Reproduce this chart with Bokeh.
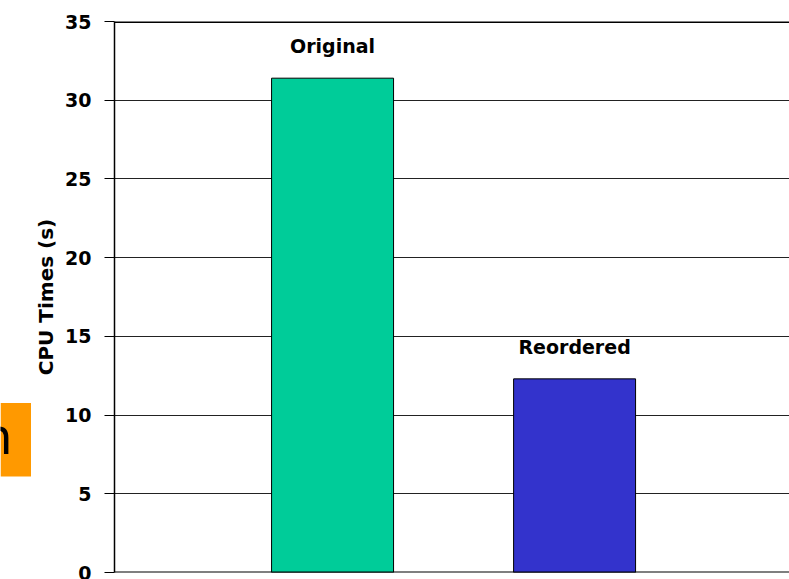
from bokeh.plotting import figure
from bokeh.layouts import row
from bokeh.models import ColumnDataSource, Range1d, FixedTicker, Span
from bokeh.core.properties import value
from bokeh.embed import file_html
from bokeh.resources import INLINE

# CPU times for the two orderings
categories = ["Original", "Reordered"]
cpu_times = [31.4, 12.3]
bar_colors = ["#00CC99", "#3333CC"]
y_ticks = [0, 5, 10, 15, 20, 25, 30, 35]

FONT = "DejaVu Sans"
TAB_W = 31
HEIGHT = 579

source = ColumnDataSource(data=dict(
    x=[1, 2],
    top=cpu_times,
    label=categories,
    color=bar_colors,
))

# narrow strip on the left holding the orange side tab (pixel-scaled ranges)
tab = figure(
    width=TAB_W, height=HEIGHT,
    output_backend="svg", toolbar_location=None,
    x_range=Range1d(0, TAB_W), y_range=Range1d(HEIGHT, 0),
    x_axis_location=None, y_axis_location=None,
    min_border=0,
)
tab.outline_line_color = None
tab.grid.visible = False
tab.border_fill_color = "white"
tab.background_fill_color = "white"
tab.quad(left=0, right=TAB_W, top=401, bottom=478, fill_color="#FF9900", line_color=None)
tab.text(x=[12], y=[437], text=["n"], text_align="right", text_baseline="alphabetic",
         text_font=value(FONT), text_font_size="49px", text_color="black")

# main bar chart
p = figure(
    width=789 - TAB_W, height=HEIGHT,
    output_backend="svg", toolbar_location=None,
    x_range=Range1d(0.099, 2.888), y_range=Range1d(0, 35),
    x_axis_location=None,
    min_border_left=114 - TAB_W, min_border_right=0,
    min_border_top=21, min_border_bottom=7,
)
p.outline_line_color = None
p.background_fill_color = "white"
p.border_fill_color = "white"

# y axis
p.yaxis.ticker = FixedTicker(ticks=y_ticks)
p.yaxis.minor_tick_line_color = None
p.yaxis.major_tick_in = 0
p.yaxis.major_tick_out = 10
p.yaxis.major_tick_line_color = "black"
p.yaxis.axis_line_color = "black"
p.yaxis.axis_line_width = 1.5
p.yaxis.major_label_standoff = 13
p.yaxis.major_label_text_font = FONT
p.yaxis.major_label_text_font_style = "bold"
p.yaxis.major_label_text_font_size = "19px"
p.yaxis.major_label_text_color = "black"
p.yaxis.axis_label = "CPU Times (s)"
p.yaxis.axis_label_text_font = FONT
p.yaxis.axis_label_text_font_style = "bold"
p.yaxis.axis_label_text_font_size = "20px"
p.yaxis.axis_label_text_color = "black"
p.yaxis.axis_label_standoff = 4

# horizontal gridlines
p.xgrid.grid_line_color = None
p.ygrid.ticker = FixedTicker(ticks=y_ticks)
p.ygrid.grid_line_color = "#222222"
p.ygrid.grid_line_width = 1.2

p.add_layout(Span(location=35, dimension="width", line_color="black", line_width=3))
p.add_layout(Span(location=0, dimension="width", line_color="black", line_width=2))

p.vbar(x="x", top="top", width=0.504, source=source,
       fill_color="color", line_color="black", line_width=1)

p.text(x="x", y="top", text="label", source=source,
       text_align="center", text_baseline="middle", y_offset=-32,
       text_font=value(FONT), text_font_style="bold",
       text_font_size="19px", text_color="black")

layout = row(tab, p, spacing=0)
open("out.html", "w").write(file_html(layout, INLINE))
